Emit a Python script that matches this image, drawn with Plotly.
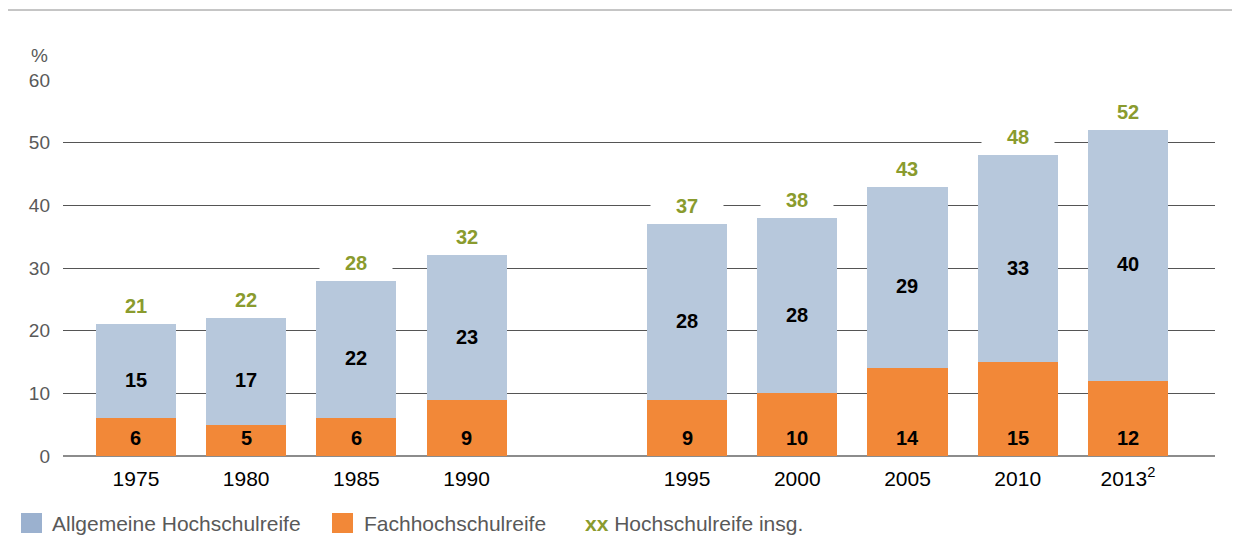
import plotly.graph_objects as go

# data
years = ["1975", "1980", "1985", "1990", "1995", "2000", "2005", "2010", "2013<sup>2</sup>"]
axis_order = ["1975", "1980", "1985", "1990", " ", "1995", "2000", "2005", "2010", "2013<sup>2</sup>"]
fach = [6, 5, 6, 9, 9, 10, 14, 15, 12]
allg = [15, 17, 22, 23, 28, 28, 29, 33, 40]
total = [21, 22, 28, 32, 37, 38, 43, 48, 52]

BLUE = "#B7C8DC"
BLUE_LEG = "#9BB1CF"
ORANGE = "#F28838"
GREEN = "#8A9B2E"
GREY_TXT = "#595959"
FONT = "Arial, Liberation Sans, sans-serif"

fig = go.Figure()
fig.add_trace(go.Bar(
    x=years, y=fach, name="Fachhochschulreife", marker=dict(color=ORANGE, line=dict(width=0)),
    width=0.726, showlegend=False, hoverinfo="skip",
))
fig.add_trace(go.Bar(
    x=years, y=allg, name="Allgemeine Hochschulreife", marker=dict(color=BLUE, line=dict(width=0)),
    width=0.726, showlegend=False, hoverinfo="skip",
))

label_font = dict(family=FONT, size=20, color="black")
for yr, f, a, t in zip(years, fach, allg, total):
    xi = axis_order.index(yr)
    # orange value sits near the base of the bar
    fig.add_annotation(x=xi, y=0, text=f"<b>{f}</b>", showarrow=False, yanchor="middle",
                       yshift=18, font=label_font)
    # blue value roughly in the middle of its segment
    fig.add_annotation(x=xi, y=f + a / 2, text=f"<b>{a}</b>", showarrow=False, yanchor="middle",
                       yshift=-9, font=label_font)
    # totals above the bars, white box hides the gridlines
    fig.add_annotation(x=xi, y=t, text=f"<b>{t}</b>", showarrow=False,
                       yanchor="bottom", yshift=5, bgcolor="white", width=70, height=22,
                       font=dict(family=FONT, size=20, color=GREEN))

# page body has an 8px margin, so everything below is in screen pixels
def px_x(p):
    return (p - 63) / 1152

def px_y(p):
    return (456 - p) / 376

# y unit
fig.add_annotation(xref="paper", yref="paper", x=px_x(50), y=px_y(55), text="%", showarrow=False,
                   xanchor="right", yanchor="middle", font=dict(family=FONT, size=19, color=GREY_TXT))

# top rule
fig.add_shape(type="line", xref="paper", yref="paper", x0=px_x(8), x1=px_x(1232), y0=px_y(10), y1=px_y(10),
              line=dict(color="#8c8c8c", width=1))

# legend, drawn by hand
for (x0, col) in [(21, BLUE_LEG), (332, ORANGE)]:
    fig.add_shape(type="rect", xref="paper", yref="paper", x0=px_x(x0), x1=px_x(x0 + 21),
                  y0=px_y(533), y1=px_y(513), fillcolor=col, line=dict(width=0))
fig.add_annotation(xref="paper", yref="paper", x=px_x(50), y=px_y(523), xanchor="left", yanchor="middle",
                   text="Allgemeine Hochschulreife", showarrow=False,
                   font=dict(family=FONT, size=21, color=GREY_TXT))
fig.add_annotation(xref="paper", yref="paper", x=px_x(362), y=px_y(523), xanchor="left", yanchor="middle",
                   text="Fachhochschulreife", showarrow=False,
                   font=dict(family=FONT, size=21, color=GREY_TXT))
fig.add_annotation(xref="paper", yref="paper", x=px_x(583), y=px_y(523), xanchor="left", yanchor="middle",
                   text=f"<b><span style='color:{GREEN}'>xx</span></b> Hochschulreife insg.", showarrow=False,
                   font=dict(family=FONT, size=21, color=GREY_TXT))

fig.update_layout(
    barmode="stack",
    width=1234, height=544,
    margin=dict(l=55, r=27, t=72, b=96),
    plot_bgcolor="white", paper_bgcolor="white",
    font=dict(family=FONT),
    xaxis=dict(type="category", categoryorder="array", categoryarray=axis_order,
               range=[-0.662, 9.79], showgrid=False, ticks="", showline=False, zeroline=False,
               ticklabelstandoff=8, tickfont=dict(family=FONT, size=21, color="black")),
    yaxis=dict(range=[0, 60], dtick=10, showgrid=True, gridcolor="#555555", gridwidth=1,
               zeroline=True, zerolinecolor="#8c8c8c", zerolinewidth=2, ticks="",
               ticklabelstandoff=12, tickfont=dict(family=FONT, size=19, color=GREY_TXT)),
    showlegend=False,
)

fig.write_html("out.html")
